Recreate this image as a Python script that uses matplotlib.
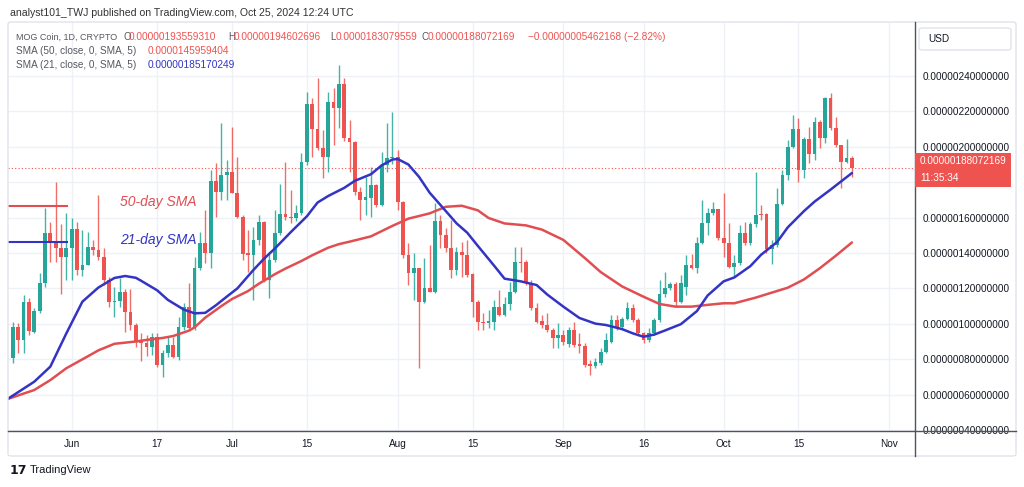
import datetime as dt
import numpy as np
import matplotlib
matplotlib.use("Agg")
import matplotlib.pyplot as plt
from matplotlib.patches import Rectangle, FancyBboxPatch
from matplotlib.lines import Line2D

W, H = 1024, 487
SCALE = 1e-6  # values below are in millionths of a USD

# ---------------- data ----------------
first_day = dt.date(2024, 5, 21)
ref_day = dt.date(2024, 6, 1)

opens = [0.805, 0.984, 0.909, 1.125, 0.955, 1.074, 1.229, 1.511, 1.455, 1.427, 1.376,
         1.427, 1.536, 1.304, 1.332, 1.436, 1.417, 1.376, 1.248, 1.125, 1.131, 1.181,
         1.068, 0.993, 0.905, 0.890, 0.871, 0.927, 0.767, 0.833, 0.880, 0.814, 0.984,
         1.097, 0.975, 1.314, 1.458, 1.398, 1.809, 1.746, 1.841, 1.859, 1.741, 1.605,
         1.402, 1.389, 1.474, 1.577, 1.248, 1.361, 1.515, 1.620, 1.605, 1.596, 1.624,
         1.916, 2.240, 2.101, 1.992, 1.944, 2.255, 2.218, 2.353, 2.048, 2.029, 1.746,
         1.700, 1.709, 1.784, 1.671, 1.897, 1.935, 1.940, 1.690, 1.389, 1.285, 1.314,
         1.125, 1.201, 1.181, 1.581, 1.502, 1.430, 1.304, 1.407, 1.389, 1.281, 1.125,
         1.012, 1.006, 1.012, 1.097, 1.050, 1.110, 1.181, 1.351, 1.351, 1.229, 1.091,
         1.018, 0.995, 0.965, 0.918, 0.937, 0.886, 0.965, 0.886, 0.875, 0.773, 0.762,
         0.777, 0.842, 0.899, 1.022, 0.984, 1.025, 1.088, 1.022, 0.946, 0.909, 0.946,
         1.022, 1.168, 1.201, 1.225, 1.125, 1.210, 1.332, 1.314, 1.458, 1.571, 1.628,
         1.647, 1.483, 1.455, 1.323, 1.345, 1.515, 1.455, 1.564, 1.620, 1.620, 1.421,
         1.445, 1.677, 1.841, 1.997, 2.099, 1.869, 2.042, 1.959, 2.142, 2.048, 2.277,
         2.105, 2.010, 1.916, 1.93559310]
highs = [1.012, 1.005, 1.163, 1.144, 1.088, 1.285, 1.653, 1.577, 1.803, 1.564, 1.624,
         1.596, 1.577, 1.530, 1.520, 1.474, 1.728, 1.427, 1.266, 1.210, 1.257, 1.195,
         1.195, 1.003, 0.950, 0.937, 0.946, 0.946, 0.852, 0.927, 0.927, 1.040, 1.116,
         1.229, 1.379, 1.520, 1.643, 1.869, 1.907, 2.133, 1.925, 2.114, 1.944, 1.615,
         1.530, 1.549, 1.615, 1.580, 1.407, 1.643, 1.790, 1.916, 1.756, 1.670, 1.963,
         2.311, 2.274, 2.390, 2.095, 2.311, 2.331, 2.462, 2.387, 2.151, 2.030, 1.775,
         1.831, 1.888, 1.790, 1.972, 2.133, 2.198, 1.982, 1.695, 1.455, 1.398, 1.318,
         1.370, 1.445, 1.681, 1.615, 1.541, 1.586, 1.436, 1.464, 1.474, 1.285, 1.134,
         1.059, 1.078, 1.134, 1.191, 1.153, 1.238, 1.436, 1.436, 1.361, 1.247, 1.116,
         1.050, 1.059, 0.975, 1.005, 0.965, 0.984, 1.012, 0.946, 0.890, 0.796, 0.807,
         0.862, 0.946, 1.050, 1.050, 1.040, 1.125, 1.112, 1.031, 0.955, 0.975, 1.031,
         1.247, 1.294, 1.238, 1.238, 1.276, 1.389, 1.394, 1.492, 1.700, 1.653, 1.690,
         1.650, 1.737, 1.568, 1.389, 1.558, 1.577, 1.577, 1.859, 1.670, 1.625, 1.474,
         1.767, 1.869, 2.038, 2.180, 2.161, 2.057, 2.114, 2.170, 2.151, 2.283, 2.302,
         2.170, 2.012, 2.042, 1.94602696]
lows = [0.777, 0.835, 0.835, 0.937, 0.946, 1.059, 1.210, 1.350, 1.350, 1.168, 1.248,
        1.248, 1.276, 1.270, 1.330, 1.389, 1.361, 1.219, 1.097, 1.040, 1.097, 0.955,
        0.965, 0.871, 0.792, 0.818, 0.824, 0.758, 0.701, 0.814, 0.805, 0.796, 0.965,
        0.965, 0.965, 1.304, 1.342, 1.314, 1.605, 1.700, 1.700, 1.737, 1.600, 1.361,
        1.294, 1.134, 1.445, 1.238, 1.144, 1.350, 1.500, 1.586, 1.570, 1.580, 1.615,
        1.900, 1.944, 1.982, 1.822, 1.859, 2.010, 2.105, 2.033, 1.859, 1.728, 1.586,
        1.615, 1.605, 1.662, 1.665, 1.859, 1.905, 1.643, 1.370, 1.219, 1.134, 0.749,
        1.120, 1.178, 1.175, 1.428, 1.406, 1.257, 1.276, 1.266, 1.266, 1.040, 0.965,
        0.965, 0.975, 0.965, 1.045, 1.045, 1.078, 1.172, 1.294, 1.219, 1.078, 1.003,
        0.975, 0.952, 0.862, 0.862, 0.880, 0.871, 0.871, 0.833, 0.758, 0.711, 0.750,
        0.767, 0.833, 0.890, 0.965, 0.965, 1.022, 1.012, 0.931, 0.890, 0.899, 0.937,
        1.012, 1.153, 1.191, 1.097, 1.116, 1.163, 1.310, 1.285, 1.452, 1.500, 1.615,
        1.474, 1.379, 1.315, 1.266, 1.330, 1.445, 1.445, 1.549, 1.586, 1.398, 1.338,
        1.436, 1.670, 1.812, 1.993, 1.803, 1.822, 1.907, 1.925, 1.992, 2.023, 2.095,
        2.001, 1.766, 1.907, 1.83079559]
closes = [0.984, 0.909, 1.125, 0.961, 1.074, 1.229, 1.511, 1.455, 1.427, 1.376, 1.427,
          1.536, 1.304, 1.332, 1.436, 1.417, 1.376, 1.248, 1.125, 1.131, 1.181, 1.068,
          0.993, 0.905, 0.890, 0.871, 0.927, 0.767, 0.833, 0.880, 0.814, 0.984, 1.097,
          0.975, 1.314, 1.458, 1.398, 1.809, 1.746, 1.841, 1.859, 1.741, 1.605, 1.394,
          1.389, 1.474, 1.577, 1.248, 1.361, 1.515, 1.620, 1.605, 1.596, 1.624, 1.916,
          2.240, 2.101, 1.992, 1.944, 2.255, 2.218, 2.353, 2.048, 2.029, 1.746, 1.700,
          1.718, 1.784, 1.671, 1.897, 1.935, 1.942, 1.690, 1.389, 1.285, 1.314, 1.125,
          1.201, 1.181, 1.581, 1.502, 1.430, 1.304, 1.407, 1.389, 1.276, 1.125, 1.012,
          1.003, 1.018, 1.097, 1.050, 1.110, 1.181, 1.351, 1.342, 1.229, 1.091, 1.012,
          0.995, 0.965, 0.918, 0.937, 0.899, 0.965, 0.880, 0.875, 0.767, 0.762, 0.786,
          0.842, 0.909, 1.022, 0.984, 1.025, 1.088, 1.022, 0.946, 0.909, 0.946, 1.022,
          1.168, 1.201, 1.225, 1.125, 1.231, 1.332, 1.314, 1.458, 1.571, 1.628, 1.647,
          1.483, 1.455, 1.323, 1.345, 1.515, 1.455, 1.564, 1.615, 1.615, 1.421, 1.445,
          1.677, 1.841, 1.997, 2.099, 1.869, 2.042, 1.959, 2.142, 2.048, 2.277, 2.105,
          2.010, 1.916, 1.935, 1.88072169]

# SMA values (day offset from 1 Jun 2024, value)
sma21_days = [-12, -7, -4, -1, 2, 5, 8, 10, 12, 13, 16, 18, 21, 23, 25, 27, 29, 31, 34,
              36, 38, 41, 44, 46, 48, 51, 53, 56, 58, 60, 61, 63, 65, 67, 70, 72, 74, 76,
              79, 81, 84, 87, 89, 92, 95, 98, 100, 103, 105, 107, 109, 111, 114, 117, 119,
              122, 124, 127, 129, 132, 134, 137, 139, 142, 144, 146]
sma21_vals = [0.575, 0.673, 0.758, 0.946, 1.125, 1.205, 1.259, 1.270, 1.260, 1.243, 1.189,
              1.135, 1.080, 1.059, 1.062, 1.105, 1.153, 1.200, 1.304, 1.368, 1.425, 1.518,
              1.607, 1.685, 1.722, 1.768, 1.808, 1.845, 1.895, 1.928, 1.931, 1.900, 1.830,
              1.740, 1.637, 1.568, 1.515, 1.440, 1.330, 1.255, 1.240, 1.219, 1.165, 1.097,
              1.033, 1.001, 0.993, 0.970, 0.946, 0.927, 0.939, 0.962, 0.998, 1.072, 1.160,
              1.240, 1.262, 1.326, 1.390, 1.462, 1.545, 1.636, 1.690, 1.758, 1.805,
              1.85170249]
sma50_days = [-12, -7, -4, -1, 3, 5, 8, 12, 14, 17, 19, 22, 23, 25, 28, 30, 33, 35, 38, 40,
              43, 45, 48, 50, 52, 56, 60, 63, 67, 70, 73, 76, 78, 81, 85, 88, 92, 96, 99,
              103, 107, 110, 113, 116, 119, 122, 124, 128, 131, 134, 137, 140, 143, 146]
sma50_vals = [0.575, 0.626, 0.682, 0.749, 0.816, 0.850, 0.887, 0.900, 0.909, 0.920, 0.931,
              0.962, 0.980, 1.035, 1.100, 1.140, 1.185, 1.226, 1.280, 1.312, 1.355, 1.387,
              1.430, 1.450, 1.464, 1.494, 1.553, 1.594, 1.624, 1.661, 1.667, 1.641, 1.598,
              1.567, 1.556, 1.532, 1.474, 1.372, 1.292, 1.211, 1.153, 1.112, 1.097, 1.097,
              1.107, 1.116, 1.116, 1.148, 1.176, 1.204, 1.250, 1.314, 1.385, 1.45959404]

price_ticks = [0.4, 0.6, 0.8, 1.0, 1.2, 1.4, 1.6, 1.8, 2.0, 2.2, 2.4]
date_ticks = [dt.date(2024, 6, 1), dt.date(2024, 6, 17), dt.date(2024, 7, 1),
              dt.date(2024, 7, 15), dt.date(2024, 8, 1), dt.date(2024, 8, 15),
              dt.date(2024, 9, 1), dt.date(2024, 9, 16), dt.date(2024, 10, 1),
              dt.date(2024, 10, 15), dt.date(2024, 11, 1)]
date_labels = ["Jun", "17", "Jul", "15", "Aug", "15", "Sep", "16", "Oct", "15", "Nov"]

# annotation levels drawn by the author
note50_level = 1.667
note21_level = 1.460

header = "analyst101_TWJ published on TradingView.com, Oct 25, 2024 12:24 UTC"
symbol = "MOG Coin, 1D, CRYPTO"
low_text = "0.0000183079559"
change_text = "\u22120.00000005462168 (\u22122.82%)"
sma50_text = "0.0000145959404"
clock_text = "11:35:34"

GREEN = "#26a69a"
RED = "#ef5350"
SMA_RED = "#e04e52"
SMA_BLUE = "#3434c4"
GRID = "#eef1f6"
TXT = "#131722"
GRAY = "#55585f"
FONT = "Liberation Sans"

plt.rcParams["font.family"] = [FONT, "DejaVu Sans"]

# ---------------- figure ----------------
fig = plt.figure(figsize=(W / 100, H / 100), dpi=100)
fig.patch.set_facecolor("white")


def fx(x):
    return x / W


def fy(y):
    return 1 - y / H


L, R, T, B = 8, 915, 22, 431
ax = fig.add_axes([fx(L), fy(B), (R - L) / W, (B - T) / H])
ax.set_facecolor("white")

n = len(opens)
days = np.array([(first_day + dt.timedelta(days=i) - ref_day).days for i in range(n)])
o = np.array(opens)
c = np.array(closes)
hi = np.array(highs)
lo = np.array(lows)
up = c >= o
cols = np.where(up, GREEN, RED)

ax.vlines(days, lo, hi, colors=cols, lw=1.0, zorder=3, alpha=0.85)
ax.bar(days, np.maximum(np.abs(c - o), 0.006), bottom=np.minimum(o, c), width=0.7,
       color=cols, linewidth=0, zorder=4)

ax.plot(sma50_days, sma50_vals, color=SMA_RED, lw=1.8, zorder=5, solid_capstyle="round")
ax.plot(sma21_days, sma21_vals, color=SMA_BLUE, lw=1.8, zorder=6, solid_capstyle="round")

# last price dotted line
ax.axhline(closes[-1], color=RED, lw=0.8, ls=(0, (1, 2)), zorder=2)

# author annotations
x0 = (L - 71.7) / 5.344
ax.plot([x0, -0.94], [note50_level, note50_level], color=SMA_RED, lw=1.5, zorder=6)
ax.plot([x0, -0.94], [note21_level, note21_level], color=SMA_BLUE, lw=1.5, zorder=6)
ax.text(9.0, 1.69, "50-day SMA", color=SMA_RED, fontsize=10, style="italic",
        ha="left", va="center", zorder=7)
ax.text(9.0, 1.473, "21-day SMA", color=SMA_BLUE, fontsize=10, style="italic",
        ha="left", va="center", zorder=7)

xt = [(d - ref_day).days for d in date_ticks]
ax.set_xlim((L - 71.7) / 5.344, (R - 71.7) / 5.344)
ax.set_ylim(2.4 - (B - 76) / 177, 2.4 + (76 - T) / 177)
ax.set_xticks(xt)
ax.set_xticklabels(date_labels)
ax.set_yticks(price_ticks)
# the 1.8 label sits under the last-price marker, as in the original
ax.set_yticklabels(["" if abs(v - 1.8) < 1e-9 else f"{v * SCALE:.14f}" for v in price_ticks])
ax.yaxis.tick_right()
ax.tick_params(axis="both", length=0, labelsize=7.2, colors=TXT)
ax.tick_params(axis="y", pad=5.5)
ax.tick_params(axis="x", pad=6)
ax.grid(True, color=GRID, lw=1, zorder=0)
ax.set_axisbelow(True)
for s in ax.spines.values():
    s.set_visible(False)

# frame and axis lines
fig.add_artist(FancyBboxPatch((fx(8), fy(456)), (1016 - 8) / W, (456 - 22) / H,
                              boxstyle="round,pad=0,rounding_size=0.004",
                              transform=fig.transFigure, fill=False,
                              edgecolor="#e0e3eb", lw=1))
fig.add_artist(Line2D([fx(8), fx(1016)], [fy(431), fy(431)], color="#50535e", lw=1))
fig.add_artist(Line2D([fx(915), fx(915)], [fy(22), fy(456)], color="#50535e", lw=1))

# USD box
fig.add_artist(FancyBboxPatch((fx(919), fy(50)), 92 / W, 22 / H,
                              boxstyle="round,pad=0,rounding_size=0.004",
                              transform=fig.transFigure, facecolor="white",
                              edgecolor="#e0e3eb", lw=1))
fig.text(fx(928), fy(39), "USD", fontsize=7.2, color=TXT, va="center", ha="left")

# price box
fig.add_artist(Rectangle((fx(915), fy(187)), 96 / W, 34.5 / H, transform=fig.transFigure,
                         facecolor=RED, edgecolor="none", zorder=10))
fig.text(fx(920), fy(161), f"{closes[-1] * SCALE:.14f}", fontsize=7.2, color="white",
         va="center", ha="left", zorder=11)
fig.text(fx(920), fy(178), clock_text, fontsize=7.2, color="white", va="center",
         ha="left", zorder=11)

# header texts
fig.text(fx(10), fy(13), header, fontsize=7.6, color="#333333", va="center", ha="left")
row1 = 37
fig.text(fx(16), fy(row1), symbol, fontsize=6.5, color=GRAY, va="center")
for lx, lab, vx, val in [(123, "O", 129, f"{opens[-1] * SCALE:.14f}"),
                         (228, "H", 234, f"{highs[-1] * SCALE:.14f}"),
                         (330, "L", 335.5, low_text),
                         (421.5, "C", 427.5, f"{closes[-1] * SCALE:.14f}")]:
    fig.text(fx(lx), fy(row1), lab, fontsize=7.0, color=GRAY, va="center")
    fig.text(fx(vx), fy(row1), val, fontsize=7.3, color=RED, va="center")
fig.text(fx(528), fy(row1), change_text, fontsize=7.3, color=RED, va="center")
fig.text(fx(16), fy(51), "SMA (50, close, 0, SMA, 5)", fontsize=7.2, color=GRAY, va="center")
fig.text(fx(148), fy(51), sma50_text, fontsize=7.3, color=RED, va="center")
fig.text(fx(16), fy(65), "SMA (21, close, 0, SMA, 5)", fontsize=7.2, color=GRAY, va="center")
fig.text(fx(148), fy(65), f"{sma21_vals[-1] * SCALE:.14f}", fontsize=7.3, color=SMA_BLUE,
         va="center")

# TradingView logo
fig.text(fx(10), fy(470), "17", fontsize=9, fontweight="bold", color="#131722",
         va="center", family="DejaVu Sans")
fig.text(fx(30), fy(470), "TradingView", fontsize=8, color="#131722", va="center")

fig.savefig("out.png", dpi=100, facecolor="white")
